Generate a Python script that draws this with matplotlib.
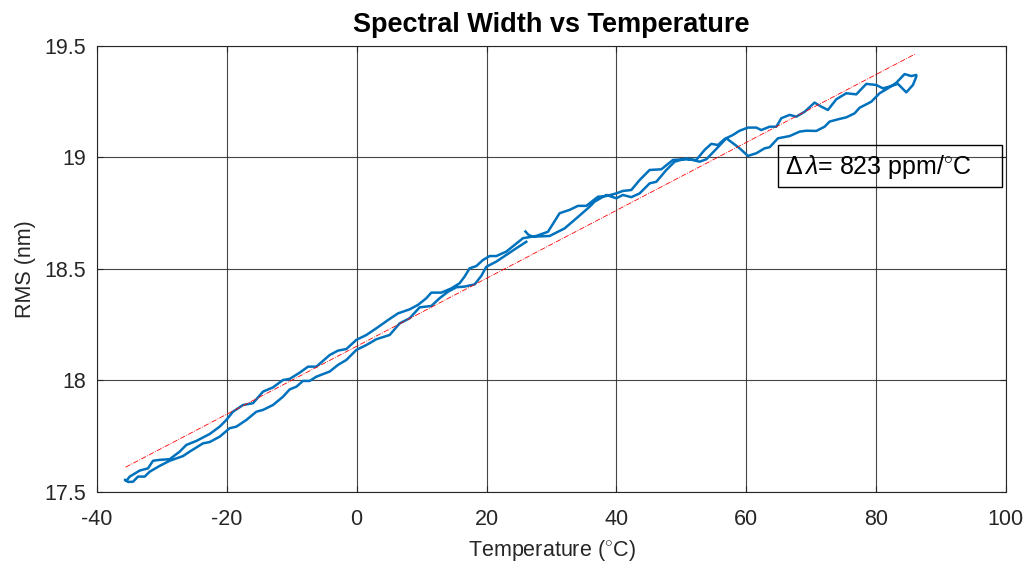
import matplotlib
matplotlib.use("Agg")
import matplotlib.pyplot as plt
from matplotlib.patches import Rectangle
import numpy as np

# heating from room temp up to the hot end
heat_t = [26.0, 26.5, 27.16, 29.72, 32.03, 33.84, 35.88, 36.65, 38.45, 40.00, 41.01, 42.30,
          43.59, 45.13, 46.16, 47.70, 48.98, 50.78, 52.83, 53.86, 55.65, 56.93, 57.96, 58.99,
          60.27, 61.56, 62.84, 63.61, 64.89, 66.69, 68.23, 69.26, 70.80, 72.08, 72.85, 74.13,
          75.42, 76.70, 77.47, 79.27, 80.55, 81.83, 83.12, 84.40, 85.43, 86.20]
heat_rms = [18.668, 18.652, 18.645, 18.648, 18.682, 18.727, 18.779, 18.802, 18.832, 18.817,
            18.832, 18.822, 18.839, 18.884, 18.891, 18.944, 18.981, 18.996, 18.981, 18.992,
            19.046, 19.086, 19.064, 19.041, 19.007, 19.019, 19.041, 19.046, 19.086, 19.096,
            19.116, 19.120, 19.119, 19.138, 19.161, 19.171, 19.180, 19.198, 19.223, 19.250,
            19.288, 19.310, 19.335, 19.374, 19.365, 19.370]

# cooling down to the cold end
cool_t = [86.20, 85.68, 84.66, 83.37, 82.09, 81.06, 80.04, 78.50, 76.96, 75.42, 73.88, 72.59,
          71.57, 70.54, 69.00, 67.72, 66.69, 65.41, 64.64, 63.61, 62.33, 61.56, 60.27, 58.99,
          57.96, 56.68, 55.65, 54.62, 53.60, 52.31, 50.26, 48.72, 46.93, 45.13, 43.59, 42.30,
          41.01, 40.00, 38.45, 37.17, 35.37, 34.09, 32.80, 31.26, 29.47, 27.67, 25.62, 24.33,
          23.05, 21.51, 20.48, 19.45, 18.43, 17.40, 16.63, 15.86, 14.58, 13.04, 11.50, 10.73,
          9.45, 8.16, 6.37, 4.83, 3.03, 1.49, -0.05, -1.59, -2.87, -4.16, -6.21, -7.49, -8.78,
          -10.32, -11.35, -12.89, -14.43, -15.97, -17.51, -19.05, -20.07, -21.10, -22.64,
          -24.69, -26.23, -27.26, -28.80, -30.34, -31.37, -32.14, -33.42, -34.96, -35.50]
cool_rms = [19.362, 19.325, 19.292, 19.330, 19.318, 19.310, 19.325, 19.330, 19.283, 19.288,
            19.261, 19.213, 19.228, 19.246, 19.205, 19.183, 19.191, 19.176, 19.138, 19.138,
            19.123, 19.134, 19.134, 19.120, 19.101, 19.083, 19.056, 19.061, 19.034, 18.989,
            18.992, 18.989, 18.947, 18.944, 18.899, 18.854, 18.850, 18.839, 18.827, 18.824,
            18.783, 18.783, 18.765, 18.750, 18.667, 18.648, 18.638, 18.608, 18.578, 18.558,
            18.558, 18.540, 18.513, 18.503, 18.466, 18.436, 18.413, 18.394, 18.394, 18.369,
            18.339, 18.319, 18.301, 18.271, 18.234, 18.204, 18.182, 18.141, 18.134, 18.114,
            18.062, 18.062, 18.035, 18.007, 18.002, 17.969, 17.950, 17.898, 17.890, 17.860,
            17.823, 17.793, 17.760, 17.729, 17.711, 17.681, 17.647, 17.644, 17.640, 17.606,
            17.596, 17.569, 17.549]

# warming back up to room temp
warm_t = [-35.50, -35.70, -35.20, -34.45, -33.68, -32.65, -31.88, -30.34, -28.80, -26.75,
          -25.72, -23.67, -22.64, -21.10, -19.56, -18.53, -16.99, -15.45, -14.43, -12.89,
          -11.35, -10.32, -9.29, -8.27, -7.24, -6.21, -4.16, -2.87, -1.59, -0.05, 1.49, 3.03,
          5.08, 6.62, 8.16, 9.70, 11.50, 12.78, 14.07, 15.35, 16.63, 18.17, 19.20, 19.97,
          21.51, 23.05, 24.59, 26.13]
warm_rms = [17.549, 17.555, 17.545, 17.546, 17.569, 17.569, 17.591, 17.617, 17.640, 17.661,
            17.681, 17.718, 17.724, 17.748, 17.786, 17.793, 17.823, 17.860, 17.868, 17.890,
            17.927, 17.960, 17.972, 17.998, 17.998, 18.017, 18.040, 18.070, 18.092, 18.137,
            18.159, 18.185, 18.204, 18.256, 18.279, 18.328, 18.334, 18.369, 18.398, 18.418,
            18.421, 18.431, 18.469, 18.510, 18.533, 18.563, 18.593, 18.622]

# linear fit end points
fit_t = [-35.6, 86.1]
fit_rms = [17.611, 19.465]

label_text = r'$\Delta\,\lambda$= 823 ppm/$^{\circ}$C'
xlabel_text = r'Temperature ($^{\circ}$C)'

t = np.array(heat_t + cool_t + warm_t)
rms = np.array(heat_rms + cool_rms + warm_rms)

plt.rcParams['font.family'] = ['Liberation Sans', 'DejaVu Sans']
plt.rcParams['axes.unicode_minus'] = False
plt.rcParams['mathtext.fontset'] = 'custom'
plt.rcParams['mathtext.rm'] = 'Liberation Sans'
plt.rcParams['mathtext.it'] = 'Liberation Sans:italic'

fig = plt.figure(figsize=(10.34, 5.62), dpi=100)
ax = fig.add_axes([0.0938, 0.1246, 0.879, 0.7936])

ax.plot(t, rms, color='#0072BD', lw=1.8, zorder=3)
ax.plot(fit_t, fit_rms, color='red', lw=0.6, ls='-.', zorder=4)

ax.set_xlim(-40, 100)
ax.set_ylim(17.5, 19.5)
ax.set_xticks(np.arange(-40, 101, 20))
ax.set_yticks([17.5, 18, 18.5, 19, 19.5])
ax.set_yticklabels(['17.5', '18', '18.5', '19', '19.5'])
ax.grid(True, color='#262626', lw=0.8, alpha=0.85)
ax.set_axisbelow(True)
ax.tick_params(direction='in', length=4, top=True, right=True, labelsize=15.5, colors='#262626')
ax.tick_params(axis='x', pad=12)
ax.tick_params(axis='y', pad=8)
for s in ax.spines.values():
    s.set_color('#262626')
    s.set_linewidth(0.8)

ax.set_xlabel(xlabel_text, fontsize=15.5, color='#262626', labelpad=6)
ax.set_ylabel('RMS (nm)', fontsize=15.5, color='#262626', labelpad=6)
ax.set_title('Spectral Width vs Temperature', fontsize=19.5, fontweight='bold', pad=10)

ax.add_patch(Rectangle((0.749, 0.684), 0.2464, 0.094, transform=ax.transAxes,
                       fill=False, lw=1.0, edgecolor='black', zorder=5))
ax.text(0.757, 0.728, label_text, transform=ax.transAxes, fontsize=18,
        va='center', ha='left', zorder=6)

fig.savefig('out.png', dpi=100)
